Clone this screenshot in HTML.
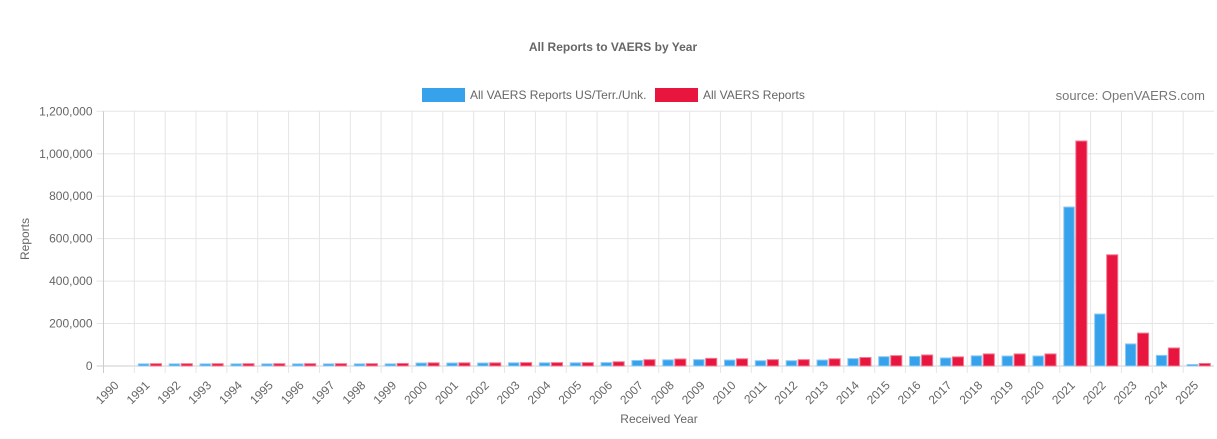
<!DOCTYPE html>
<html><head><meta charset="utf-8"><style>
body{margin:0;background:#fff;font-family:"Liberation Sans",sans-serif;}
svg text{font-family:"Liberation Sans",sans-serif;fill:#666;}
</style></head><body>
<svg id="c" width="1217" height="434" xmlns="http://www.w3.org/2000/svg">
<text x="613" y="51" text-anchor="middle" font-size="12" font-weight="bold">All Reports to VAERS by Year</text>
<g>
<rect x="422" y="88" width="43" height="14" fill="#36a2eb"/>
<text x="470" y="99" font-size="12">All VAERS Reports US/Terr./Unk.</text>
<rect x="655" y="88" width="43" height="14" fill="#e8163f"/>
<text x="703" y="99" font-size="12">All VAERS Reports</text>
</g>
<text x="1205" y="100" text-anchor="end" font-size="13" style="fill:#777">source: OpenVAERS.com</text>
<text transform="translate(29,239) rotate(-90)" text-anchor="middle" font-size="12">Reports</text>
<text x="659" y="423" text-anchor="middle" font-size="12">Received Year</text>
<g id="grid"></g><g id="bars"></g><g id="labels"></g>
</svg>
<script>
const categories=["1990","1991","1992","1993","1994","1995","1996","1997","1998","1999","2000","2001","2002","2003","2004","2005","2006","2007","2008","2009","2010","2011","2012","2013","2014","2015","2016","2017","2018","2019","2020","2021","2022","2023","2024","2025"];
const usValues=[0,10000,10000,10000,10000,10000,10000,10000,10000,10000,14000,14000,14000,15000,15000,15000,16000,26000,29000,30000,28000,25000,25000,28000,35000,44000,45000,38000,48000,47000,47000,749000,245000,104000,50000,7000];
const allValues=[0,11000,11000,11000,11000,11000,11000,11000,11000,12000,15000,15000,15000,16000,16000,16000,20000,30000,33000,36000,34000,30000,30000,34000,40000,49000,52000,43000,57000,57000,57000,1060000,524000,155000,85000,12000];
const yTicks=[0,200000,400000,600000,800000,1000000,1200000];
const NS="http://www.w3.org/2000/svg";
const X0=103.5,X1=1214,Y0=366,Y1=111.3,YMAX=1200000;
const bw=(X1-X0)/categories.length;
const xs=i=>X0+i*bw;
const ys=v=>Y0-(v/YMAX)*(Y0-Y1);
function mk(tag,attrs,parent){const e=document.createElementNS(NS,tag);for(const k in attrs)e.setAttribute(k,attrs[k]);parent.appendChild(e);return e;}
const grid=document.getElementById('grid'),bars=document.getElementById('bars'),labels=document.getElementById('labels');
yTicks.forEach(t=>{const y=ys(t);
 const l=mk('line',{x1:X0-7,x2:X1,y1:y,y2:y,stroke:t===0?'#ccc':'#e5e5e5','stroke-width':1},grid);
 
 
 const tx=mk('text',{x:X0-11,y:y+4,'text-anchor':'end','font-size':12},labels);
 tx.textContent=t.toLocaleString('en-US');
 
 
});
categories.forEach((c,i)=>{const x=xs(i);
 const l=mk('line',{x1:x,x2:x,y1:Y1,y2:Y0+7,stroke:i===0?'#ccc':'#e5e5e5','stroke-width':1},grid);
 
 
 const tx=mk('text',{transform:`translate(${x+16},${Y0+20}) rotate(-45)`,'text-anchor':'end','font-size':12},labels);
 tx.textContent=c;
 
 
 const yb=ys(usValues[i]);
 if(usValues[i]>0){const b=mk('rect',{x:x+bw*0.13,y:yb,width:bw*0.34,height:Y0-yb,fill:'#36a2eb',stroke:'#8fcaf3','stroke-width':1},bars);
 
 }
 const ya=ys(allValues[i]);
 if(allValues[i]>0){const b=mk('rect',{x:x+bw*0.52,y:ya,width:bw*0.36,height:Y0-ya,fill:'#e8163f',stroke:'#f27a93','stroke-width':1},bars);
 
 }
});
</script>
</body></html>
